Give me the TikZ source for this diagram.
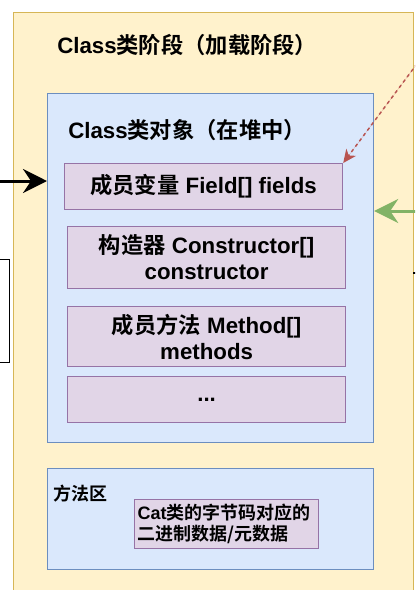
\documentclass[tikz,border=0pt]{standalone}
\usepackage{fontspec}
\setmainfont{Liberation Sans}
\newfontfamily\cjk{Noto Sans CJK SC}[BoldFont={Noto Sans CJK SC Bold}]
\usetikzlibrary{arrows.meta}
\usepackage{xcolor}
\definecolor{stageFill}{HTML}{FFF2CC}
\definecolor{stageLine}{HTML}{D6B656}
\definecolor{heapFill}{HTML}{DAE8FC}
\definecolor{heapLine}{HTML}{6C8EBF}
\definecolor{memberFill}{HTML}{E1D5E7}
\definecolor{memberLine}{HTML}{9673A6}
\definecolor{refRed}{HTML}{B85450}
\definecolor{refGreen}{HTML}{82B366}
\newcommand{\zh}[1]{{\cjk #1}}
\newcommand{\boxFont}{\fontsize{16.7}{19.5}\selectfont\bfseries}
\newcommand{\areaFont}{\fontsize{13.5}{15.75}\selectfont\bfseries}

\begin{document}
\begin{tikzpicture}[x=0.75pt, y=-0.75pt,
        stageBox/.style={draw=stageLine, fill=stageFill, line width=0.9pt, anchor=north west, inner sep=0pt},
        heapBox/.style={draw=heapLine, fill=heapFill, line width=0.9pt, anchor=north west, inner sep=0pt},
        memberBox/.style={draw=memberLine, fill=memberFill, line width=0.9pt, anchor=north west, align=center, font=\boxFont, minimum width=208.5pt, inner sep=2pt},
        titleText/.style={anchor=west, inner sep=0pt},
        arrowStyle/.style={-{Stealth[length=18pt, width=18pt, inset=6pt]}, line width=2.25pt}
    ]
        \path[use as bounding box, clip] (0,0) rectangle (415,590);

        % Left neighbour (cut off)
        \node[draw=black, fill=white, line width=0.9pt, anchor=north west, inner sep=0pt, minimum width=74.25pt, minimum height=77.25pt] (leftBox) at (-90,259) {};

        % Class stage
        \node[stageBox, minimum width=300pt, minimum height=448.5pt] (stage) at (13,12) {};
        \node[titleText, font=\boxFont] (stageTitle) at (57,45) {Class\zh{类阶段（加载阶段）}};

        % Class object in heap
        \node[heapBox, minimum width=244.5pt, minimum height=261.75pt] (clsObj) at (47,93) {};
        \node[titleText, font=\boxFont] (clsTitle) at (68,130) {Class\zh{类对象（在堆中）}};

        \node[memberBox, minimum height=34.5pt] (fields) at (64,163) {\zh{成员变量} Field[] fields};
        \node[memberBox, minimum height=46.5pt] (ctors) at (67,226) {\zh{构造器} Constructor[]\\constructor};
        \node[memberBox, minimum height=45pt] (methods) at (67,306) {\zh{成员方法} Method[]\\methods};
        \node[memberBox, minimum height=34.5pt] (more) at (67,376) {...};

        % Method area
        \node[heapBox, minimum width=244.5pt, minimum height=75.75pt] (methodArea) at (47,468) {};
        \node[titleText, font=\areaFont] (areaTitle) at (53,494) {\zh{方法区}};
        \node[draw=memberLine, fill=memberFill, line width=0.9pt, anchor=north west, font=\areaFont, align=left, text width=133.5pt, inner xsep=2.25pt, inner ysep=0pt, minimum height=36.75pt] (catBytes) at (134,499) {Cat\zh{类的字节码对应的}\\\zh{二进制数据/元数据}};

        % Connectors
        \coordinate (leftIn) at (-5,181);
        \coordinate (redFrom) at (425,53);
        \coordinate (greenFrom) at (425,211);
        \coordinate (tickA) at (413,273);
        \coordinate (tickB) at (420,273);
        \draw[arrowStyle, draw=black] (leftIn) -- (leftIn -| clsObj.west);
        \draw[arrowStyle, draw=refGreen, fill=refGreen] (greenFrom) -- (greenFrom -| clsObj.east);
        \draw[-{Stealth[length=10pt, width=9pt, inset=3pt]}, draw=refRed, fill=refRed, line width=1.1pt, dash pattern=on 2.5pt off 2.5pt] (redFrom) -- (fields.north east);
        \draw[line width=1.5pt] (tickA) -- (tickB);
    \end{tikzpicture}
\end{document}
